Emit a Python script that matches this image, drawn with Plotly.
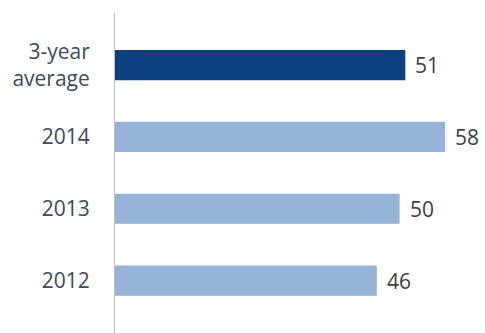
import plotly.graph_objects as go

categories = ["2012", "2013", "2014", "3-year<br>average"]
values = [46, 50, 58, 51]
colors = ["#95b3d7", "#95b3d7", "#95b3d7", "#0b3f7e"]

fig = go.Figure()
fig.add_trace(go.Bar(
    y=categories, x=values, orientation="h",
    marker=dict(color=colors, line=dict(width=0)),
    width=0.42, hoverinfo="skip",
))

for i, v in enumerate(values):
    fig.add_annotation(x=v, y=i, xref="x", yref="y", text=str(v), showarrow=False,
                       xanchor="left", yanchor="middle", xshift=8,
                       font=dict(family="Open Sans", size=21, color="#404040"))

fig.update_layout(
    width=485, height=333,
    margin=dict(l=115, r=0, t=12, b=0),
    paper_bgcolor="white", plot_bgcolor="white",
    showlegend=False,
    font=dict(family="Open Sans", size=21, color="#404a58"),
    xaxis=dict(range=[0, 65], visible=False, fixedrange=True),
    yaxis=dict(
        type="category", categoryorder="array", categoryarray=categories,
        range=[-0.73, 3.74],
        showline=True, linecolor="#bfbfbf", linewidth=1,
        showgrid=False, zeroline=False,
        ticks="outside", ticklen=20, tickcolor="rgba(0,0,0,0)",
        tickfont=dict(family="Open Sans", size=21, color="#404a58"),
    ),
)

fig.write_html("out.html")
